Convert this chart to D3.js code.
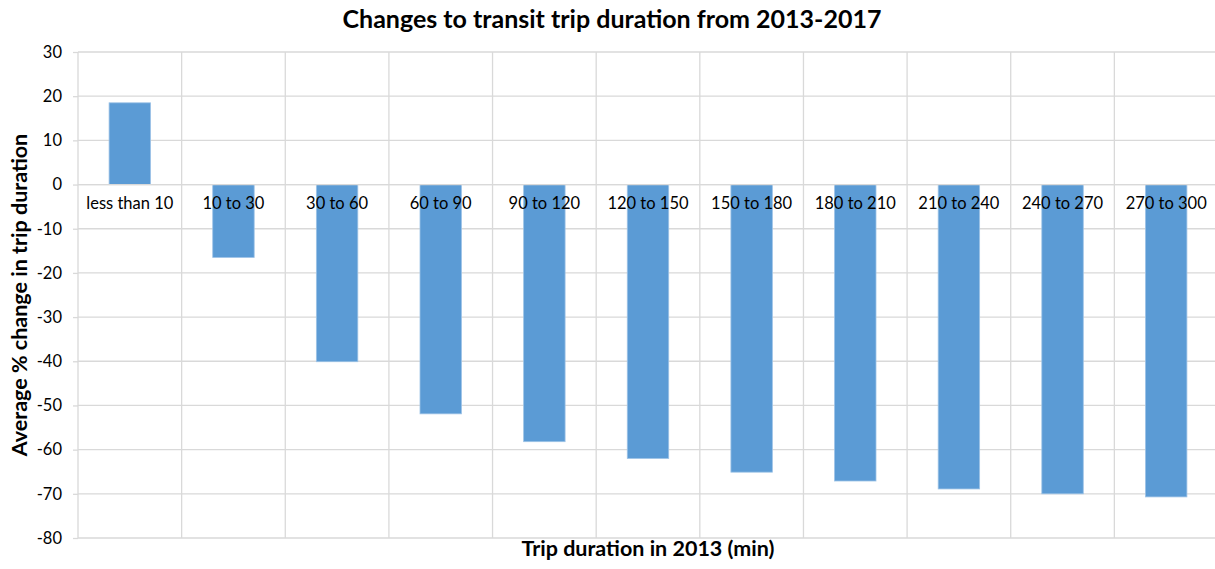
<!DOCTYPE html>
<html>
<head>
<meta charset="utf-8">
<script src="https://cdn.jsdelivr.net/npm/d3@7"></script>
<style>
  html, body { margin: 0; padding: 0; background: #fff; }
  svg { display: block; font-family: Lato, "Open Sans", sans-serif; }
</style>
</head>
<body>
<svg id="chart" width="1215" height="569"></svg>
<script>
const categories = ["less than 10", "10 to 30", "30 to 60", "60 to 90", "90 to 120", "120 to 150",
                    "150 to 180", "180 to 210", "210 to 240", "240 to 270", "270 to 300"];
const values = [18.5, -16.5, -40.1, -51.9, -58.2, -62.0, -65.1, -67.1, -68.9, -70.0, -70.7];
const yTicks = [30, 20, 10, 0, -10, -20, -30, -40, -50, -60, -70, -80];
const titleText = "Changes to transit trip duration from 2013-2017";
const xTitle = "Trip duration in 2013 (min)";
const yTitle = "Average % change in trip duration";

const svg = d3.select("#chart");
const mLeft = 78, mRight = 1218, mTop = 52, mBottom = 538;

const x = d3.scaleBand().domain(categories).range([mLeft, mRight]).paddingInner(0.6).paddingOuter(0.3);
const xGrid = d3.scaleBand().domain(categories).range([mLeft, mRight]);
const y = d3.scaleLinear().domain([-80, 30]).range([mBottom, mTop]);

const grid = "#d9d9d9";

// horizontal gridlines
svg.append("g").selectAll("line").data(yTicks).join("line")
  .attr("x1", mLeft).attr("x2", mRight)
  .attr("y1", d => y(d)).attr("y2", d => y(d))
  .attr("stroke", grid).attr("stroke-width", 1.3);

// vertical gridlines (category boundaries)
svg.append("g").selectAll("line").data(categories.slice(1)).join("line")
  .attr("x1", d => xGrid(d)).attr("x2", d => xGrid(d))
  .attr("y1", mTop).attr("y2", mBottom)
  .attr("stroke", grid).attr("stroke-width", 1.3);

// y axis
const yAxis = svg.append("g").attr("transform", `translate(${mLeft},0)`)
  .call(d3.axisLeft(y).tickValues(yTicks).tickSize(5).tickPadding(11).tickFormat(d => String(d)));
yAxis.select(".domain").attr("stroke", grid).attr("stroke-width", 1.3).attr("d", `M0,${mTop}V${mBottom}`);
yAxis.selectAll(".tick line").attr("stroke", grid).attr("stroke-width", 1.3);
yAxis.selectAll(".tick text").attr("fill", "#000").style("font-size", "16.5px")
  .style("font-family", "Lato, sans-serif");

// bars
svg.append("g").selectAll("rect").data(values).join("rect")
  .attr("x", (d, i) => x(categories[i]))
  .attr("width", x.bandwidth())
  .attr("y", d => y(Math.max(0, d)))
  .attr("height", d => Math.abs(y(d) - y(0)))
  .attr("fill", "#5b9bd5")
  .attr("stroke", "#9dc3e6").attr("stroke-width", 0.8);

// zero line on top
svg.append("line").attr("x1", mLeft).attr("x2", mRight).attr("y1", y(0)).attr("y2", y(0))
  .attr("stroke", grid).attr("stroke-width", 1.3);

// category labels
svg.append("g").selectAll("text").data(categories).join("text")
  .attr("x", d => xGrid(d) + xGrid.bandwidth() / 2)
  .attr("y", y(0) + 24)
  .attr("text-anchor", "middle")
  .style("font-size", "16.5px").attr("fill", "#000")
  .text(d => d);

// title
svg.append("text").attr("x", 612).attr("y", 28).attr("text-anchor", "middle")
  .style("font-size", "25px").style("font-weight", "bold").attr("fill", "#000").text(titleText);

// x title
svg.append("text").attr("x", (mLeft + mRight) / 2).attr("y", 556).attr("text-anchor", "middle")
  .style("font-size", "21.5px").style("font-weight", "bold").attr("fill", "#000").text(xTitle);

// y title
svg.append("text").attr("transform", `translate(27,${(mTop + mBottom) / 2}) rotate(-90)`)
  .attr("text-anchor", "middle")
  .style("font-size", "21.5px").style("font-weight", "bold").attr("fill", "#000").text(yTitle);
</script>
</body>
</html>
